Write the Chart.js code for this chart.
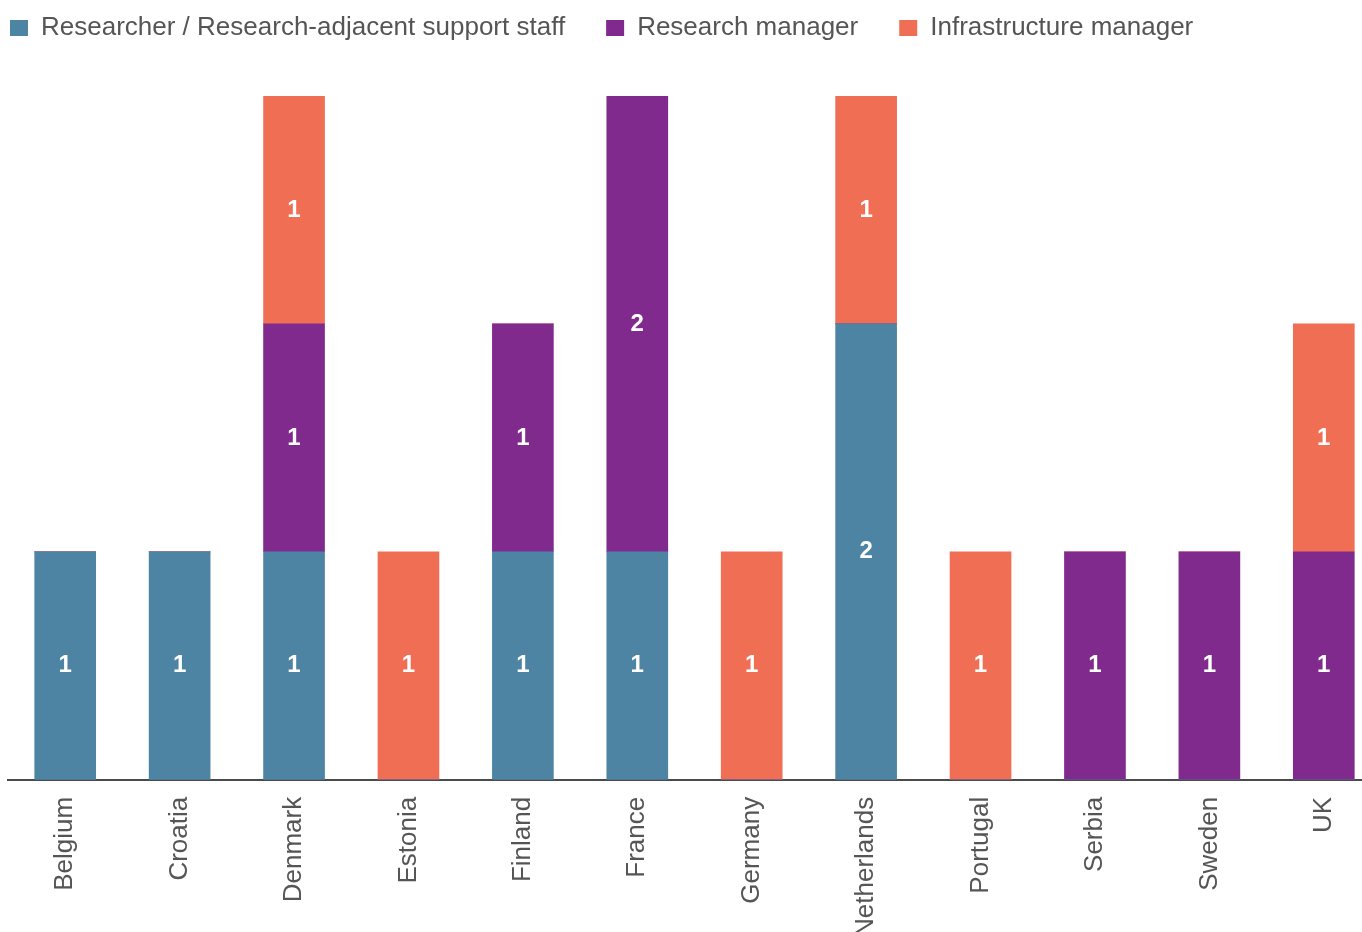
<!DOCTYPE html>
<html>
<head>
<meta charset="utf-8">
<script src="https://cdn.jsdelivr.net/npm/chart.js@4/dist/chart.umd.min.js"></script>
<style>
  html, body { margin: 0; padding: 0; background: #fff; overflow: hidden; }
  #wrap { width: 1390px; height: 954px; }
</style>
</head>
<body>
<div id="wrap"><canvas id="roles" width="1390" height="954"></canvas></div>
<script>
// Respondents per country, split by role
const countries = ["Belgium", "Croatia", "Denmark", "Estonia", "Finland", "France",
                   "Germany", "Netherlands", "Portugal", "Serbia", "Sweden", "UK"];
const researchers      = [1, 1, 1, 0, 1, 1, 0, 2, 0, 0, 0, 0];
const researchManagers = [0, 0, 1, 0, 1, 2, 0, 0, 0, 1, 1, 1];
const infraManagers    = [0, 0, 1, 1, 0, 0, 1, 1, 1, 0, 0, 1];

const FONT = "'Liberation Sans', Arial, sans-serif";
const GREY = "#555";

// white count in the middle of every non-empty segment
const segmentLabels = {
  id: "segmentLabels",
  afterDatasetsDraw(chart) {
    const ctx = chart.ctx;
    ctx.save();
    ctx.fillStyle = "#fff";
    ctx.font = "bold 24px " + FONT;
    ctx.textAlign = "center";
    ctx.textBaseline = "middle";
    chart.data.datasets.forEach((ds, i) => {
      chart.getDatasetMeta(i).data.forEach((bar, j) => {
        const v = ds.data[j];
        if (!v) return;
        ctx.fillText(String(v), bar.x, (bar.y + bar.base) / 2);
      });
    });
    ctx.restore();
  }
};

// legend sits tight in the top-left corner, but keeps a tall box above the bars
const legendPlacement = {
  id: "legendPlacement",
  beforeInit(chart) {
    const legend = chart.legend;
    const fit = legend.fit;
    legend.fit = function () { fit.call(this); this.height = 96; };
  },
  afterLayout(chart) {
    const legend = chart.legend;
    const pad = legend.options.labels.padding;
    legend.left = 10 - pad;
    legend.top = 15 - pad;
  }
};

new Chart(document.getElementById("roles"), {
  type: "bar",
  data: {
    labels: countries,
    datasets: [
      { label: "Researcher / Research-adjacent support staff", data: researchers, backgroundColor: "#4d84a4" },
      { label: "Research manager", data: researchManagers, backgroundColor: "#812a8d" },
      { label: "Infrastructure manager", data: infraManagers, backgroundColor: "#f06e53" },
    ]
  },
  options: {
    responsive: false,
    animation: false,
    layout: { padding: { left: 8, right: 9, top: 0, bottom: 0 } },
    datasets: { bar: { barThickness: 61, borderWidth: 0 } },
    plugins: {
      legend: {
        position: "top",
        align: "start",
        labels: {
          color: GREY,
          font: { family: FONT, size: 26 },
          boxWidth: 18, boxHeight: 16,
          padding: 41,
        }
      },
      tooltip: { enabled: false }
    },
    scales: {
      x: {
        stacked: true,
        grid: { display: false, drawTicks: false },
        border: { display: true, color: "#4a4a4a", width: 2 },
        ticks: {
          color: GREY, font: { family: FONT, size: 26 },
          minRotation: 90, maxRotation: 90, padding: 17, autoSkip: false
        }
      },
      y: {
        stacked: true, display: false, min: 0, max: 3
      }
    }
  },
  plugins: [segmentLabels, legendPlacement]
});
</script>
</body>
</html>
